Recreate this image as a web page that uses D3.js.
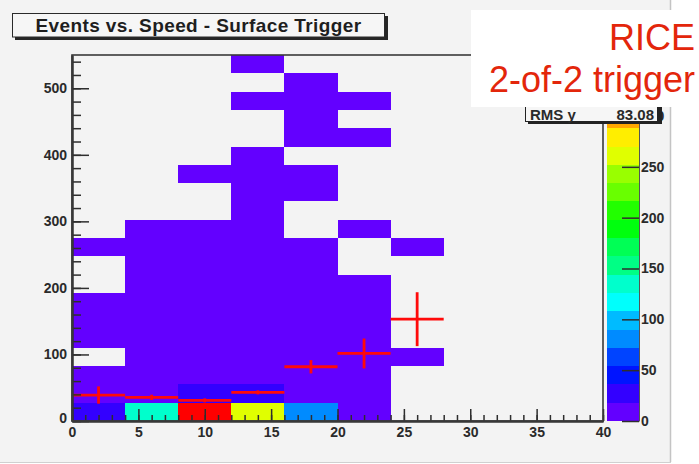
<!DOCTYPE html>
<html>
<head>
<meta charset="utf-8">
<script src="https://cdn.jsdelivr.net/npm/d3@7"></script>
<style>
  html, body { margin: 0; padding: 0; background: #fff; }
  svg { display: block; font-family: "Liberation Sans", Arial, Helvetica, sans-serif; }
</style>
</head>
<body>
<svg id="chart" width="699" height="464"></svg>
<script>
// Speed bin edges (x) and event bins (y: 20 bins over 0..550)
const speedEdges = [0, 4, 8, 12, 16, 20, 24, 28, 32, 36, 40];
const eventMax = 550;
const eventBins = 20;

// Cell contents for each speed bin, from the lowest event bin upward
const counts = [
  [30, 5, 2, 0, 1, 1, 2, 0, 0, 1,   0, 0, 0, 0, 0, 0, 0, 0, 0, 0],
  [138, 6, 3, 2, 2, 1, 1, 1, 1, 1,  1, 0, 0, 0, 0, 0, 0, 0, 0, 0],
  [360, 26, 4, 3, 2, 2, 1, 1, 1, 1, 1, 0, 0, 1, 0, 0, 0, 0, 0, 0],
  [262, 24, 5, 3, 2, 2, 2, 1, 1, 1, 1, 1, 1, 1, 1, 0, 0, 1, 0, 1],
  [84, 8, 4, 3, 2, 2, 1, 1, 1, 1,   0, 0, 1, 1, 0, 1, 1, 1, 1, 0],
  [12, 6, 4, 3, 2, 2, 1, 1, 0, 0,   1, 0, 0, 0, 0, 1, 0, 1, 0, 0],
  [0, 0, 0, 2, 0, 0, 0, 0, 0, 1,    0, 0, 0, 0, 0, 0, 0, 0, 0, 0],
  [0, 0, 0, 0, 0, 0, 0, 0, 0, 0,    0, 0, 0, 0, 0, 0, 0, 0, 0, 0],
  [0, 0, 0, 0, 0, 0, 0, 0, 0, 0,    0, 0, 0, 0, 0, 0, 0, 0, 0, 0],
  [0, 0, 0, 0, 0, 0, 0, 0, 0, 0,    0, 0, 0, 0, 0, 0, 0, 0, 0, 0]
];

// Profile: mean events per speed bin with its error
const profileSpeed = [2, 6, 10, 14, 18, 22, 26];
const profileMean  = [39, 35.5, 31, 43, 81.5, 101.5, 153];
const profileErr   = [13, 4, 3, 3, 10, 22.5, 40.5];

// Tick labels
const xTicks = [0, 5, 10, 15, 20, 25, 30, 35, 40];
const yTicks = [0, 100, 200, 300, 400, 500];
const zTicks = [0, 50, 100, 150, 200, 250, 300];
const zMax = 360;
const zLevels = 20;

const titleText = "Events vs. Speed - Surface Trigger";
const statsLabel = "RMS y";
const statsValue = "83.08";
const noteLines = ["RICE", "2-of-2 trigger"];

// ---------------------------------------------------------------
const svg = d3.select("#chart");
const plotL = 72, plotR = 603, plotT = 55, plotB = 421;

const x = d3.scaleLinear().domain([0, 40]).range([plotL, plotR]);
const y = d3.scaleLinear().domain([0, eventMax]).range([plotB, plotT]);
const z = d3.scaleLinear().domain([0, zMax]).range([plotB, plotT]);
const px = v => Math.round(x(v));
const py = v => Math.round(y(v));
const pz = v => Math.round(z(v));

// Violet -> red rainbow palette (50 hues), sampled for each contour level
function levelColor(k) {
  const idx = Math.floor((k + 0.99) * 50 / zLevels);
  const hue = 280 - (idx + 1) * 5.6;
  return d3.hsl(hue, 1, 0.5).formatHex();
}
function cellColor(v) {
  let k = Math.floor(v / (zMax / zLevels));
  if (k > zLevels - 1) k = zLevels - 1;
  return levelColor(k);
}

// canvas
svg.append("rect").attr("x", 0).attr("y", 0).attr("width", 670).attr("height", 462)
  .attr("fill", "#f3f3f3");
svg.append("line").attr("x1", 670.5).attr("x2", 670.5).attr("y1", 0).attr("y2", 462)
  .attr("stroke", "#c4c4c4").attr("stroke-width", 1.5);
svg.append("line").attr("x1", 0).attr("x2", 671).attr("y1", 462.5).attr("y2", 462.5)
  .attr("stroke", "#d0d0d0").attr("stroke-width", 1);

// title box with shadow
svg.append("rect").attr("x", 15).attr("y", 16).attr("width", 373).attr("height", 24).attr("fill", "#262626");
svg.append("rect").attr("x", 12.5).attr("y", 13.5).attr("width", 372).attr("height", 23.5)
  .attr("fill", "#f6f6f6").attr("stroke", "#2a2a2a").attr("stroke-width", 1);
svg.append("text").attr("x", 198.5).attr("y", 31.5).attr("text-anchor", "middle")
  .attr("font-size", 19).attr("font-weight", "bold").attr("letter-spacing", 0.4)
  .attr("fill", "#1e1e1e").text(titleText);

// 2D cells (edges snapped to whole pixels so neighbours meet without seams)
const cells = [];
counts.forEach((col, i) => col.forEach((v, j) => {
  if (v > 0) cells.push({ x0: speedEdges[i], x1: speedEdges[i + 1], y0: j * eventMax / eventBins, y1: (j + 1) * eventMax / eventBins, v });
}));
svg.append("g").attr("shape-rendering", "crispEdges")
  .selectAll("rect").data(cells).join("rect")
  .attr("x", d => px(d.x0)).attr("width", d => px(d.x1) - px(d.x0))
  .attr("y", d => py(d.y1)).attr("height", d => py(d.y0) - py(d.y1))
  .attr("fill", d => cellColor(d.v));

// profile crosses
const prof = profileSpeed.map((s, i) => ({ s, m: profileMean[i], e: profileErr[i] }));
const halfW = (speedEdges[1] - speedEdges[0]) / 2;
const pg = svg.append("g").attr("stroke", "#ff0a0a").attr("stroke-width", 2.8);
pg.selectAll("line.h").data(prof).join("line").attr("class", "h")
  .attr("x1", d => x(d.s - halfW)).attr("x2", d => x(d.s + halfW))
  .attr("y1", d => y(d.m)).attr("y2", d => y(d.m));
pg.selectAll("line.v").data(prof).join("line").attr("class", "v")
  .attr("x1", d => x(d.s)).attr("x2", d => x(d.s))
  .attr("y1", d => y(d.m - d.e)).attr("y2", d => y(d.m + d.e));

// axes
function styleAxis(g, w) {
  g.selectAll(".tick line").attr("stroke", "#2e2e2e").attr("stroke-width", w);
  g.selectAll(".domain").attr("stroke", "#333").attr("stroke-width", 2);
  g.selectAll("text").attr("font-size", 14).attr("font-weight", "bold").attr("fill", "#2a2a2a")
    .attr("font-family", "Liberation Sans, Arial, sans-serif");
}

const gxMinor = svg.append("g").attr("transform", `translate(0,${plotB})`)
  .call(d3.axisBottom(x).tickValues(d3.range(0, 41, 1)).tickSizeInner(-6).tickSizeOuter(0).tickFormat(""));
styleAxis(gxMinor, 1.5);
const gx = svg.append("g").attr("transform", `translate(0,${plotB})`)
  .call(d3.axisBottom(x).tickValues(xTicks).tickSizeInner(-12).tickSizeOuter(0).tickPadding(6).tickFormat(d3.format("d")));
styleAxis(gx, 1.5);

const gyMinor = svg.append("g").attr("transform", `translate(${plotL},0)`)
  .call(d3.axisLeft(y).tickValues(d3.range(0, 541, 20)).tickSizeInner(-9).tickSizeOuter(0).tickFormat(""));
styleAxis(gyMinor, 1.5);
const gy = svg.append("g").attr("transform", `translate(${plotL},0)`)
  .call(d3.axisLeft(y).tickValues(yTicks).tickSizeInner(-17).tickSizeOuter(0).tickPadding(5).tickFormat(d3.format("d")));
styleAxis(gy, 1.5);
gy.selectAll(".tick").filter(d => d === 0).select("text").attr("dy", "0.1em");

// frame
svg.append("rect").attr("x", plotL).attr("y", plotT).attr("width", plotR - plotL).attr("height", plotB - plotT)
  .attr("fill", "none").attr("stroke", "#3a3a3a").attr("stroke-width", 1.6);

// colour palette
const levels = d3.range(zLevels);
svg.append("g").attr("shape-rendering", "crispEdges")
  .selectAll("rect").data(levels).join("rect")
  .attr("x", 607).attr("width", 32)
  .attr("y", k => pz((k + 1) * zMax / zLevels)).attr("height", k => pz(k * zMax / zLevels) - pz((k + 1) * zMax / zLevels))
  .attr("fill", k => levelColor(k));
const gz = svg.append("g").attr("transform", "translate(639,0)")
  .call(d3.axisRight(z).tickValues(zTicks).tickSizeInner(-17).tickSizeOuter(0).tickPadding(2).tickFormat(d3.format("d")));
styleAxis(gz, 1.5);
gz.selectAll(".domain").attr("stroke-width", 1).attr("stroke", "#555");

// statistics box (partly covered by the note)
svg.append("rect").attr("x", 528).attr("y", 93).attr("width", 134).attr("height", 31).attr("fill", "#222");
svg.append("rect").attr("x", 525.5).attr("y", 90.5).attr("width", 132).attr("height", 31)
  .attr("fill", "#f6f6f6").attr("stroke", "#222").attr("stroke-width", 1);
svg.append("text").attr("x", 530).attr("y", 120).attr("font-size", 15).attr("font-weight", "bold")
  .attr("fill", "#2a2a2a").text(statsLabel);
svg.append("text").attr("x", 654).attr("y", 120).attr("text-anchor", "end").attr("font-size", 15)
  .attr("font-weight", "bold").attr("fill", "#2a2a2a").text(statsValue);

// trigger note
svg.append("rect").attr("x", 471).attr("y", 10).attr("width", 228).attr("height", 97).attr("fill", "#ffffff");
const note = svg.append("text").attr("text-anchor", "end").attr("font-size", 36)
  .attr("fill", "#e3260b").attr("font-family", "Liberation Sans, Arial, Helvetica, sans-serif");
note.selectAll("tspan").data(noteLines).join("tspan")
  .attr("x", 695).attr("y", (d, i) => 50 + i * 42).text(d => d);
</script>
</body>
</html>
